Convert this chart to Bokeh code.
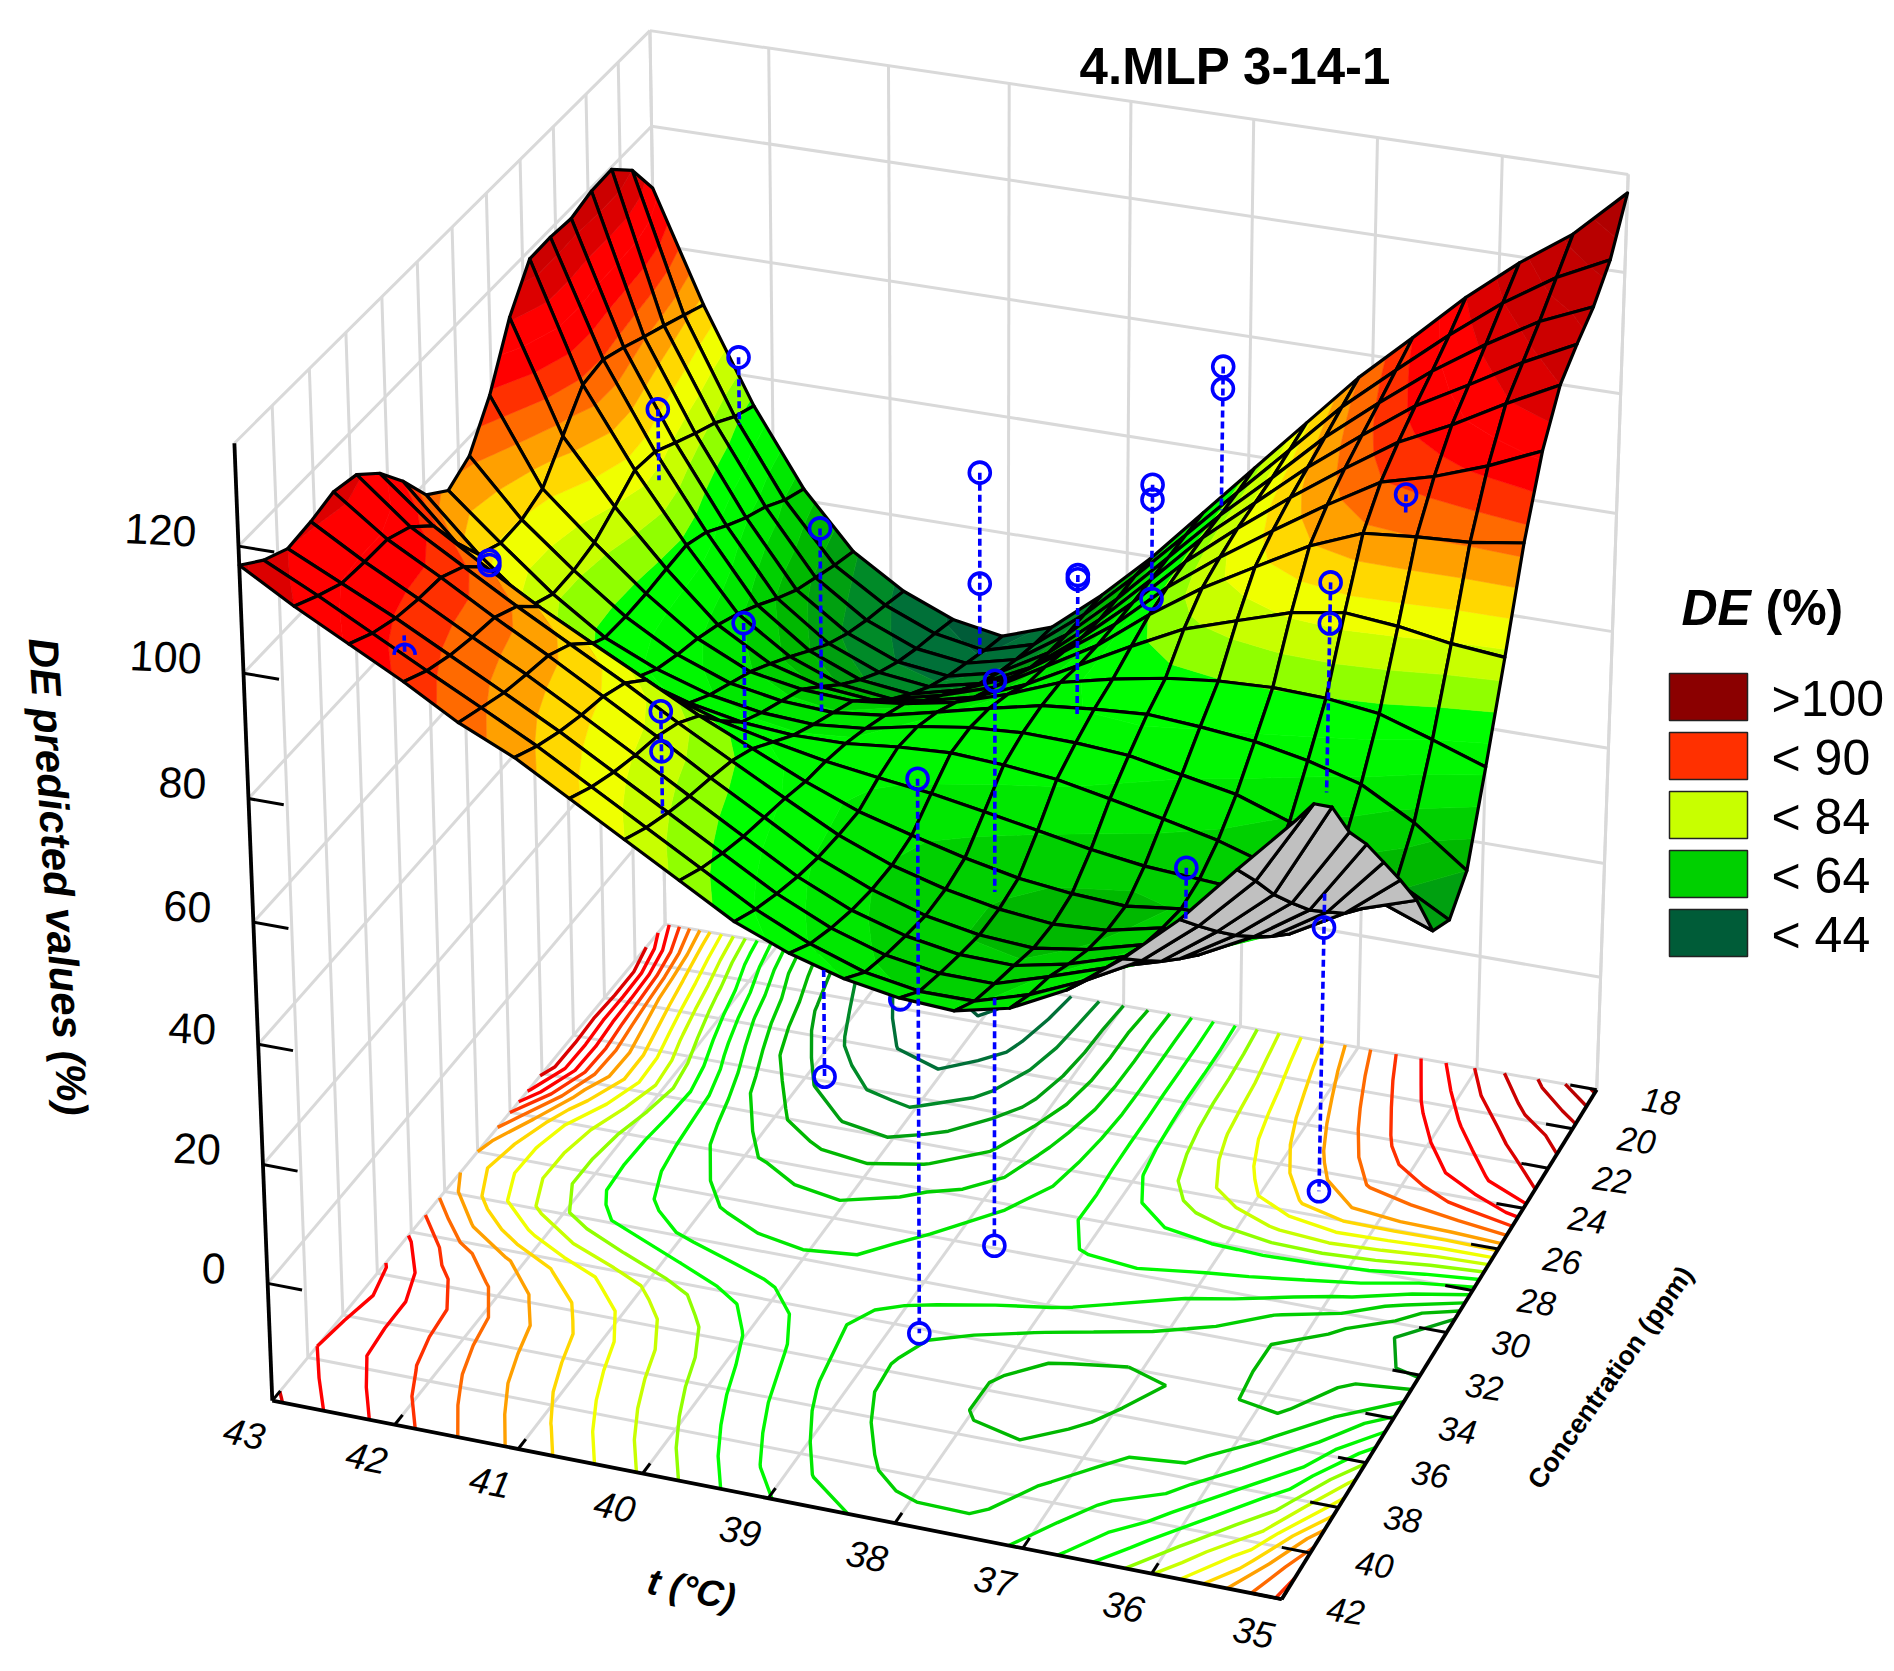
import numpy as np
from contourpy import contour_generator
from bokeh.plotting import figure
from bokeh.embed import file_html
from bokeh.resources import INLINE
from bokeh.core.properties import value

FONT = value("Liberation Sans")

# ---------- chart data ----------
t_nodes = [43.0,42.58,42.16,41.74,41.32,40.89,40.47,40.05,39.63,39.21,38.79,38.37,37.95,37.53,37.11,36.68,36.26,35.84,35.42,35.0]
c_nodes = [18.0,19.26,20.53,21.79,23.05,24.32,25.58,26.84,28.11,29.37,30.63,31.89,33.16,34.42,35.68,36.95,38.21,39.47,40.74,42.0]
de_c00 = [109.6,91,75,62,52.5,47,43.5,42,45,52,60,69,78,87,96,104,112,119,125,133]
de_c01 = [116,92.8,76.8,63.8,53.9,48.4,44.9,43.4,45.9,52.5,60.5,69,77.6,86.1,94.7,102.2,109.3,115.9,121.4,125.6]
de_c02 = [119.6,94.6,79.4,66.4,55.6,49.7,46.2,45.1,47.2,52.9,60.5,69,77.5,85.2,93.3,100.4,107,112.7,117.8,121.5]
de_c03 = [119.4,96.3,81.3,68.3,57.3,51.3,47.8,46.8,48.8,53.7,60.8,69,77.5,84.7,92,98.7,104.9,109.7,114.7,119]
de_c04 = [118.3,98.1,83.4,70.7,59.7,53.4,49.9,48.9,50.9,55.1,61.6,69,77.2,84.2,90.7,96.9,102.6,106.8,111.6,116]
de_c05 = [118.7,99.7,85.6,73.4,62.4,56.1,52.6,51.6,53.8,57.4,63.1,69.2,76.8,83.2,89,94.7,99.8,102.1,105.2,109]
de_c06 = [118.6,99.1,86.2,75,64.8,59,55.7,54.7,56.8,59.6,64.5,69.5,76.1,81.9,86.8,91.7,95.2,96,96.5,97.8]
de_c07 = [112.5,94.2,83.8,74.8,66.8,61.7,59.3,58.5,59.8,61.9,65.5,70.1,74.7,79,81.8,84.6,86,85.2,83.8,83]
de_c08 = [103.3,89.2,81.6,74.5,68.4,64.3,62.8,62.3,63.3,65,67.8,71.2,73.2,74.8,75.8,76.2,75.9,74.8,72,69]
de_c09 = [97,87.8,80.8,74.5,69.6,66.3,64.8,64.3,65.3,67.3,69.4,71.3,72.2,72.8,72.2,71.3,69.6,67.2,62.4,56]
de_c10 = [95,87.7,80.7,74.9,71.1,68.3,66.8,66.3,67.1,68.9,70.2,70.8,70.6,70,68.3,66.6,63.6,61,56.8,52]
de_c11 = [98,89.6,82.6,77.1,73.6,70.9,69.2,68.5,68.6,69.5,70,69.5,68.6,66.9,65.1,63.1,60.4,57.6,57.7,54.4]
de_c12 = [104,95.4,89,83.7,79.8,76.2,73.4,71.4,69.7,68.5,67.4,65.9,64.3,62.7,61.5,60.9,60.3,58,60.7,63.6]
de_c13 = [109,101.9,96.6,91.6,87.1,82.6,78.2,74.3,70.4,67,64.6,62.4,60.6,59.6,59.1,60.2,60.2,59.2,64.1,71]
de_c14 = [112.5,105.5,100.5,95.5,90.8,86,81,76.3,71.7,67.2,63.8,61.4,59.7,58.8,59.3,61.3,61,63,68.5,78]
de_c15 = [113.5,107.3,102.6,97.6,92.9,87.8,82.8,77.6,72.7,67.7,64,61.3,59.7,59.1,60.4,62.8,62.7,67.2,73,85]
de_c16 = [112.5,107.5,103,98.3,93.8,88.8,83.8,78.7,73.7,68.7,64.8,62.2,60.7,60.5,62.3,65.1,66.3,71.6,78.3,91]
de_c17 = [112,107.9,103.8,99.3,94.8,90.1,85.1,80.1,75.1,70.1,66.1,63.3,61.9,61.8,64.5,67.5,70.1,76.4,83.8,99]
de_c18 = [114,109.8,105.3,100.8,96.4,91.8,86.8,81.8,76.8,71.8,67.8,64.8,63.3,63.3,65.9,69.8,74.5,81.5,90.1,103.6]
de_c19 = [117,112,107.5,103,98,94,89,84,79,74,70.5,68,66.5,66,68,72.5,79,86.7,96,105]

levels = [44,48,52,56,60,64,68,72,76,80,84,88,92,96,100,104,108,112,116,120,124,128,132]
band_colors = ["#005c38","#007038","#008a28","#00a010","#00b800","#00d000","#00e800","#00f800","#00ff00",
               "#90ff00","#c8ff00","#f0ff00","#ffd800","#ffa000","#ff6a00","#ff3000","#ff0000","#ff0000",
               "#dc0000","#cc0000","#c40000","#b80000","#b00000","#a00000"]

t_ticks = [43,42,41,40,39,38,37,36,35]
c_ticks = [18,20,22,24,26,28,30,32,34,36,38,40,42]
z_ticks = [0,20,40,60,80,100,120]

# observed cases (t, concentration, DE)
obs_t  = [41.97,42.33,40.86,40.86,40.98,40.89,40.89,42.0,42.0,40.0,40.0,38.69,38.69,38.34,38.34,38.34,38.0,38.0,35.83,36.58,36.58,36.58,36.58,38.68,38.68,38.77,38.77,36.41]
obs_c  = [20.4,22.85,23.8,23.8,27.8,33.6,33.6,35.35,35.35,20,20,24.2,24.2,22,22,22,20,20,26.55,24.9,24.9,24.9,24.9,29.9,29.9,34.2,34.2,36.5]
obs_de = [90.8,87.9,75.4,-20,71.2,74.9,68.3,101,100.3,76.4,57.4,76,75.3,85.7,83.2,66.5,100.7,97,105.8,84,77.2,25.9,-20,76,-20,73.2,-20,74.7]
# dashed residual lines
dash_t    = [41.97,42.33,40.86,40.86,40.98,40.89,40.0,38.69,38.34,38.0,35.83,36.58,36.58,38.68,38.68,38.77,36.41,41.96]
dash_c    = [20.4,22.85,23.8,23.8,27.8,33.6,20,24.2,22,20,26.55,24.9,24.9,29.9,29.9,34.2,36.5,40.4]
dash_from = [90.8,87.9,75.4,-1,71.2,74.9,76.4,76,85.7,100.7,105.8,84,31.7,76,22.8,73.2,74.7,102]
dash_to   = [79.4,75.9,44.2,-20,50.2,58,45.2,51.9,66.5,76.6,102.7,48.9,-20,40.8,-20,-20,66.4,104.6]
hidden_t, hidden_c, hidden_de = [39.35],[30.7],[22.8]
half_t, half_c, half_de = [41.96],[40.4],[102]

legend_labels = [">100","< 90","< 84","< 64","< 44"]
legend_colors = ["#8b0000","#ff3000","#c8ff00","#00d000","#005c38"]

Z = np.array([de_c00,de_c01,de_c02,de_c03,de_c04,de_c05,de_c06,de_c07,de_c08,de_c09,
              de_c10,de_c11,de_c12,de_c13,de_c14,de_c15,de_c16,de_c17,de_c18,de_c19],dtype=float)
T = np.array(t_nodes); C = np.array(c_nodes)
ZMIN, ZMAX = -20.0, 136.0

# ---------- 3D camera calibrated on the box corners ----------
calib = [(43,42,ZMIN,272,1399),(35,42,ZMIN,1280,1600),(35,18,ZMIN,1597,1087),(43,18,ZMIN,664,925),
         (43,42,ZMAX,233,443),(35,18,ZMAX,1628,175),(43,18,ZMAX,649,30),(43,42,0,268,1284),(43,42,120,239,544)]
def norm(t,c,z):
    return (np.asarray(t,float)-39)/4,(np.asarray(c,float)-30)/12,(np.asarray(z,float)-58)/78
rows=[]
for t,c,z,x,y in calib:
    a,b,d=norm(t,c,z)
    rows.append([a,b,d,1,0,0,0,0,-x*a,-x*b,-x*d,-x])
    rows.append([0,0,0,0,a,b,d,1,-y*a,-y*b,-y*d,-y])
P=np.linalg.svd(np.array(rows,float))[2][-1].reshape(3,4)
def proj(t,c,z):
    a,b,d=norm(t,c,z)
    w=P[2,0]*a+P[2,1]*b+P[2,2]*d+P[2,3]
    return (P[0,0]*a+P[0,1]*b+P[0,2]*d+P[0,3])/w,(P[1,0]*a+P[1,1]*b+P[1,2]*d+P[1,3])/w

p=figure(width=1888,height=1665,x_range=(0,1888),y_range=(1665,0),toolbar_location=None,
         output_backend="svg",min_border=0,outline_line_color=None,background_fill_color="white")
p.axis.visible=False
p.grid.visible=False

# ---------- box grid ----------
GRID="#d9d9d9"
def seg3(a,b):
    xa,ya=proj(*a); xb,yb=proj(*b)
    return [float(xa),float(xb)],[float(ya),float(yb)]
gx,gy=[],[]
for t in t_ticks:
    for a,b in [((t,42,ZMIN),(t,18,ZMIN)),((t,18,ZMIN),(t,18,ZMAX))]:
        x,y=seg3(a,b); gx.append(x); gy.append(y)
for c in c_ticks:
    for a,b in [((43,c,ZMIN),(35,c,ZMIN)),((43,c,ZMIN),(43,c,ZMAX))]:
        x,y=seg3(a,b); gx.append(x); gy.append(y)
for z in z_ticks:
    for a,b in [((43,42,z),(43,18,z)),((43,18,z),(35,18,z))]:
        x,y=seg3(a,b); gx.append(x); gy.append(y)
for a,b in [((43,42,ZMAX),(43,18,ZMAX)),((43,18,ZMAX),(35,18,ZMAX)),((35,18,ZMIN),(35,18,ZMAX))]:
    x,y=seg3(a,b); gx.append(x); gy.append(y)
p.multi_line(gx,gy,line_color=GRID,line_width=3)

# ---------- floor contours ----------
gen=contour_generator(x=T[::-1],y=C,z=Z[:,::-1])
cx=[];cy=[];cc=[]
for i,lv in enumerate(levels):
    for ln in gen.lines(lv):
        x,y=proj(ln[:,0],ln[:,1],np.full(len(ln),ZMIN))
        cx.append(x.tolist());cy.append(y.tolist());cc.append(band_colors[i])
p.multi_line(cx,cy,line_color=cc,line_width=3.4)

def circles(ts,cs,ds):
    x,y=proj(np.array(ts),np.array(cs),np.array(ds))
    p.scatter(x.tolist(),y.tolist(),marker="circle",size=21,fill_alpha=0,line_color="#0000ff",line_width=3.6)
circles(hidden_t,hidden_c,hidden_de)

# ---------- surface (painter's order, far corner first) ----------
def clip(poly,lo,hi):
    def cut(pts,lim,keep_above):
        out=[]
        n=len(pts)
        for k in range(n):
            a=pts[k];b=pts[(k+1)%n]
            ia=(a[2]>=lim) if keep_above else (a[2]<=lim)
            ib=(b[2]>=lim) if keep_above else (b[2]<=lim)
            if ia: out.append(a)
            if ia!=ib:
                f=(lim-a[2])/(b[2]-a[2])
                out.append((a[0]+f*(b[0]-a[0]),a[1]+f*(b[1]-a[1]),lim))
        return out
    pts=poly
    if lo is not None and pts: pts=cut(pts,lo,True)
    if hi is not None and pts: pts=cut(pts,hi,False)
    return pts
edges=[None]+levels+[None]
sx,sy,sf,sa,sl,sw=[],[],[],[],[],[]
def area(x,y):
    return 0.5*sum(x[k]*y[(k+1)%len(x)]-x[(k+1)%len(x)]*y[k] for k in range(len(x)))
fx,fy=proj(np.array([43,35,35,43.]),np.array([18,18,42,42.]),np.full(4,ZMIN))
up=np.sign(area(fx.tolist(),fy.tolist()))
for j in range(len(C)-1):
    for i in range(len(T)-1):
        q=[(T[i],C[j],Z[j,i]),(T[i+1],C[j],Z[j,i+1]),(T[i+1],C[j+1],Z[j+1,i+1]),(T[i],C[j+1],Z[j+1,i])]
        qx,qy=proj(np.array([a[0] for a in q]),np.array([a[1] for a in q]),np.array([a[2] for a in q]))
        qx=qx.tolist();qy=qy.tolist()
        if np.sign(area(qx,qy))!=up:
            sx.append(qx);sy.append(qy);sf.append("#c0c0c0");sa.append(1.0);sl.append("#c0c0c0");sw.append(0.5)
        else:
            for b,col in enumerate(band_colors):
                pts=clip(q,edges[b],edges[b+1])
                if len(pts)>=3:
                    x,y=proj(np.array([a[0] for a in pts]),np.array([a[1] for a in pts]),np.array([a[2] for a in pts]))
                    sx.append(x.tolist());sy.append(y.tolist());sf.append(col);sa.append(1.0);sl.append(col);sw.append(0.6)
        sx.append(qx);sy.append(qy);sf.append("#000000");sa.append(0.0);sl.append("#000000");sw.append(3.2)
p.patches(sx,sy,fill_color=sf,fill_alpha=sa,line_color=sl,line_width=sw,line_join="round")

# ---------- axes ----------
ax,ay=[],[]
for a,b in [((43,42,ZMIN),(43,42,ZMAX)),((43,42,ZMIN),(35,42,ZMIN)),((35,42,ZMIN),(35,18,ZMIN))]:
    x,y=seg3(a,b);ax.append(x);ay.append(y)
tx,ty=[],[]
for z in z_ticks:
    x,y=seg3((43,42,z),(42.72,42,z));tx.append(x);ty.append(y)
for t in t_ticks:
    x,y=seg3((t,42,ZMIN),(t,41.55,ZMIN));tx.append(x);ty.append(y)
for c in c_ticks:
    x,y=seg3((35,c,ZMIN),(35.22,c,ZMIN));tx.append(x);ty.append(y)
p.multi_line(ax,ay,line_color="black",line_width=3.8)
p.multi_line(tx,ty,line_color="black",line_width=3)

def label(x,y,s,size,angle=0.0,style="normal",align="center",font=FONT):
    p.text([x],[y],text=[s],text_font=font,text_font_size=f"{size}px",text_font_style=style,
           angle=angle,text_align=align,text_baseline="middle",text_color="black")
for t in t_ticks:
    x,y=proj(t,42,ZMIN); label(float(x)-28,float(y)+33,str(t),37,-0.2,"italic")
for c in c_ticks:
    x,y=proj(35,c,ZMIN); label(float(x)+64,float(y)+12,str(c),34,-0.14,"italic")
for z in z_ticks:
    x,y=proj(43,42,z); label(float(x)-42,float(y)-14,str(z),43,-0.05,"normal","right")

# ---------- observations ----------
dx,dy=[],[]
for t,c,a,b in zip(dash_t,dash_c,dash_from,dash_to):
    x,y=seg3((t,c,a),(t,c,b));dx.append(x);dy.append(y)
p.multi_line(dx,dy,line_color="#0000ff",line_width=3.6,line_dash="7 4")
circles(obs_t,obs_c,obs_de)
hx,hy=proj(np.array(half_t),np.array(half_c),np.array(half_de))
ang=np.linspace(0,np.pi,25)
p.line((hx[0]+10.5*np.cos(ang)).tolist(),(hy[0]-10.5*np.sin(ang)+3).tolist(),line_color="#0000ff",line_width=3.6)

# ---------- titles ----------
label(1235,66,"4.MLP 3-14-1",51,0,"bold")
label(58,882,"DE  predicted values (%)",42,-1.508,"bold italic")
label(1610,1377,"Concentration (ppm)",27,0.955,"bold")
label(691,1589,"t (°C)",37,-0.2,"bold italic")

# ---------- legend ----------
label(1681,607,"DE",50,0,"bold italic","left")
label(1765,607,"(%)",50,0,"bold","left")
ly0=[673,732,791,850,909]
for y0,col,s in zip(ly0,legend_colors,legend_labels):
    p.quad(left=[1669],right=[1747],top=[y0],bottom=[y0+47],fill_color=col,line_color="#222222",line_width=1.5)
    label(1771,y0+25,s,50,0,"normal","left")

open("out.html","w").write(file_html(p,INLINE))
